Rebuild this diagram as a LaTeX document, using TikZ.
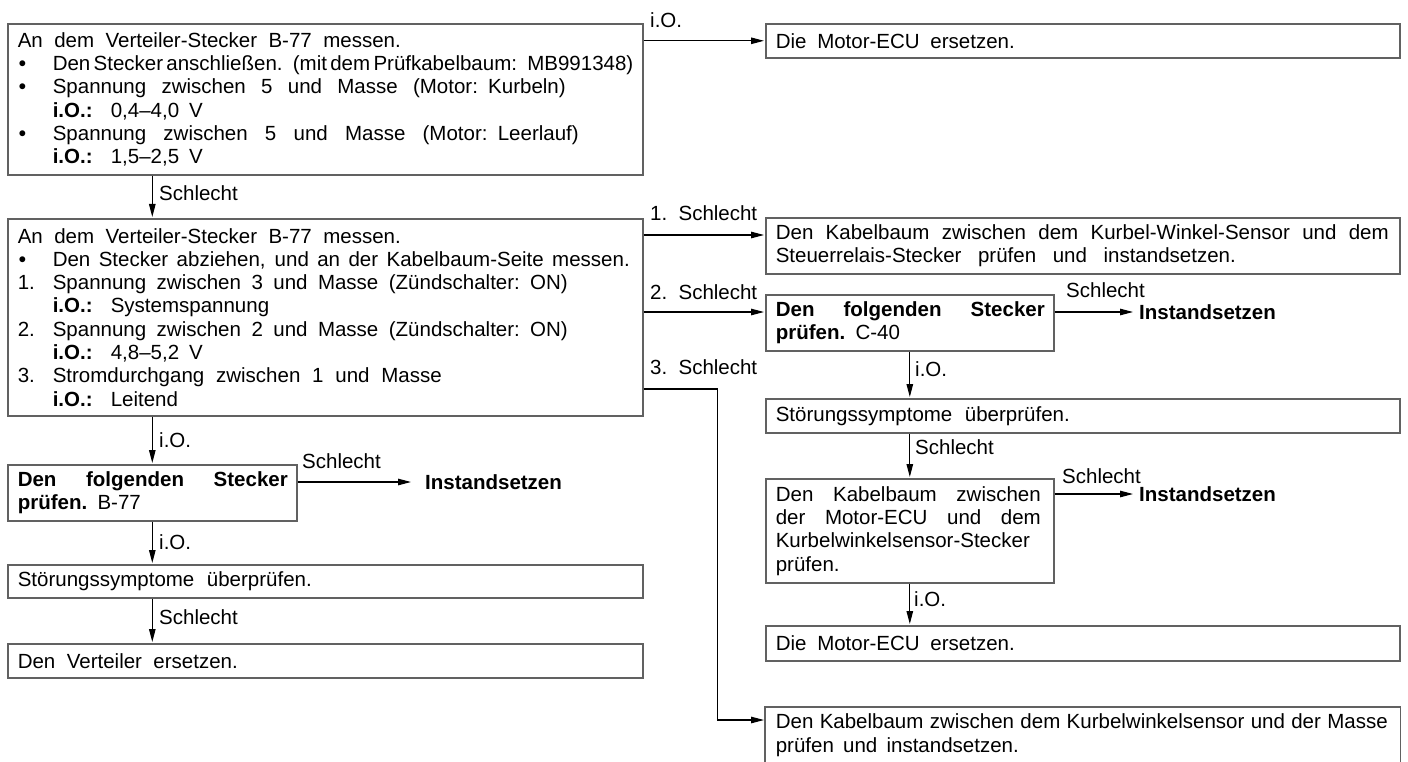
\documentclass[tikz,border=0pt]{standalone}
\usepackage{fontspec}
\setmainfont{Liberation Sans}[WordSpace={1.6}]
\usetikzlibrary{arrows.meta,calc}
\newcommand\lw[2]{\leavevmode\hbox to #1pt{\spaceskip=0.28em plus 1fil minus 0.12em\relax #2}}
\newcommand\blt{\makebox[35pt][l]{\hspace{1pt}\textbf{\textbullet}}}
\newcommand\iok{\hspace*{35pt}\makebox[58pt][l]{\textbf{i.O.:}}}
\newcommand\numl[1]{\makebox[35pt][l]{#1}}
\begin{document}
\begin{tikzpicture}[x=1pt,y=-1pt,
  font=\fontsize{20.5}{23.3}\selectfont,
  box/.style={draw=black!62, line width=1.6pt, anchor=north west, inner xsep=10pt, inner ysep=0pt, align=left},
  frame/.style={draw=black!62, line width=1.6pt},
  arr/.style={line width=1.1pt, shorten >=1pt, -{Triangle[length=13pt,width=6.5pt]}},
  lbl/.style={anchor=west, inner sep=0pt},
  big/.style={anchor=west, inner sep=0pt, font=\fontsize{20.5}{23.3}\selectfont\bfseries}]
\useasboundingbox (0,0) rectangle (1408,762);

% left column
\node[box, minimum width=635pt, minimum height=151pt, text width=615pt] (A) at (7,23) {%
\lw{383}{An dem Verteiler-Stecker B-77 messen.}\\
\blt\lw{577}{Den Stecker anschließen. (mit dem Prüfkabelbaum: MB991348)}\\
\blt\lw{513}{Spannung zwischen 5 und Masse (Motor: Kurbeln)}\\
\iok\lw{92}{0,4–4,0 V}\\
\blt\lw{526}{Spannung zwischen 5 und Masse (Motor: Leerlauf)}\\
\iok\lw{92}{1,5–2,5 V}};

\node[box, minimum width=635pt, minimum height=197pt, text width=615pt] (B) at (7,218) {%
\lw{383}{An dem Verteiler-Stecker B-77 messen.}\\
\blt\lw{577}{Den Stecker abziehen, und an der Kabelbaum-Seite messen.}\\
\numl{1.}\lw{515}{Spannung zwischen 3 und Masse (Zündschalter: ON)}\\
\iok Systemspannung\\
\numl{2.}\lw{515}{Spannung zwischen 2 und Masse (Zündschalter: ON)}\\
\iok\lw{92}{4,8–5,2 V}\\
\numl{3.}\lw{389}{Stromdurchgang zwischen 1 und Masse}\\
\iok Leitend};

\node[box, minimum width=289pt, minimum height=56pt, text width=269pt] (C) at (7,464) {%
\lw{270}{\bfseries Den folgenden Stecker}\\
\lw{98}{\textbf{prüfen.} B-77}};

\node[box, minimum width=635pt, minimum height=33pt, text width=615pt] (D) at (7,564) {\lw{294}{Störungssymptome überprüfen.}};
\node[box, minimum width=635pt, minimum height=34pt, text width=615pt] (E) at (7,643) {\lw{220}{Den Verteiler ersetzen.}};

% right column
\node[box, minimum width=634pt, minimum height=34pt, text width=614pt] (R0) at (765,23) {\lw{239}{Die Motor-ECU ersetzen.}};
\node[box, minimum width=634pt, minimum height=56pt, text width=614pt] (R1) at (765,217) {%
\lw{613}{Den Kabelbaum zwischen dem Kurbel-Winkel-Sensor und dem}\\
\lw{460}{Steuerrelais-Stecker prüfen und instandsetzen.}};
\node[box, minimum width=288pt, minimum height=56pt, text width=268pt] (R2) at (765,294) {%
\lw{269}{\bfseries Den folgenden Stecker}\\
\lw{98}{\textbf{prüfen.} C-40}};
\node[box, minimum width=634pt, minimum height=34pt, text width=614pt] (R3) at (765,398) {\lw{294}{Störungssymptome überprüfen.}};
\node[box, minimum width=288pt, minimum height=104pt, text width=268pt] (R4) at (765,478) {%
\lw{265}{Den Kabelbaum zwischen}\\
\lw{265}{der Motor-ECU und dem}\\
Kurbelwinkelsensor-Stecker\\
prüfen.};
\node[box, minimum width=634pt, minimum height=35pt, text width=614pt] (R5) at (765,625) {\lw{239}{Die Motor-ECU ersetzen.}};
\node[box, draw=none, minimum width=634pt, minimum height=55pt, text width=614pt] (R6) at (765,707) {%
\lw{612}{Den Kabelbaum zwischen dem Kurbelwinkelsensor und der Masse}\\
\lw{243}{prüfen und instandsetzen.}};
\draw[frame] (R6.south west) -- (R6.north west) -- (R6.north east) -- (R6.south east);

% labels
\node[lbl] (lA) at (650,20) {i.O.};
\node[lbl] (lAB) at (159,193) {Schlecht};
\node[lbl] (lB1) at (650,213) {\lw{107}{1. Schlecht}};
\node[lbl] (lB2) at (650,292) {\lw{107}{2. Schlecht}};
\node[lbl] (lB3) at (650,367) {\lw{107}{3. Schlecht}};
\node[lbl] (lBC) at (159,440) {i.O.};
\node[lbl] (lCI) at (302,461) {Schlecht};
\node[big] (I1) at (425,482) {Instandsetzen};
\node[lbl] (lCD) at (159,542) {i.O.};
\node[lbl] (lDE) at (159,617) {Schlecht};
\node[lbl] (lR2I) at (1066,290) {Schlecht};
\node[big] (I2) at (1139,312) {Instandsetzen};
\node[lbl] (lR23) at (915,369) {i.O.};
\node[lbl] (lR34) at (915,447) {Schlecht};
\node[lbl] (lR4I) at (1062,476) {Schlecht};
\node[big] (I3) at (1139,494) {Instandsetzen};
\node[lbl] (lR45) at (914,599) {i.O.};

% connectors
\coordinate (r1in) at ($(R1.north west)+(0,18)$);
\coordinate (r2in) at ($(R2.north west)+(0,18)$);
\coordinate (b3) at ($(B.north east)+(0,171)$);
\coordinate (r6in) at ($(R6.north west)+(0,13)$);
\draw[arr] (A.east |- R0.west) -- (R0.west);
\draw[arr] (C.north |- A.south) -- (C.north |- B.north);
\draw[arr] (B.east |- r1in) -- (r1in);
\draw[arr] (B.east |- r2in) -- (r2in);
\draw[arr] (b3) -- ++(74,0) |- (r6in);
\draw[arr] (C.north |- B.south) -- (C.north);
\draw[arr] (C.east |- I1.west) -- ([xshift=-13pt]I1.west);
\draw[arr] (C.south) -- (C.south |- D.north);
\draw[arr] (C.south |- D.south) -- (C.south |- E.north);
\draw[arr] (R2.east |- I2.west) -- ([xshift=-5pt]I2.west);
\draw[arr] (R2.south) -- (R2.south |- R3.north);
\draw[arr] (R2.south |- R3.south) -- (R4.north);
\draw[arr] (R4.east |- I3.west) -- ([xshift=-5pt]I3.west);
\draw[arr] (R4.south) -- (R4.south |- R5.north);
\end{tikzpicture}
\end{document}
